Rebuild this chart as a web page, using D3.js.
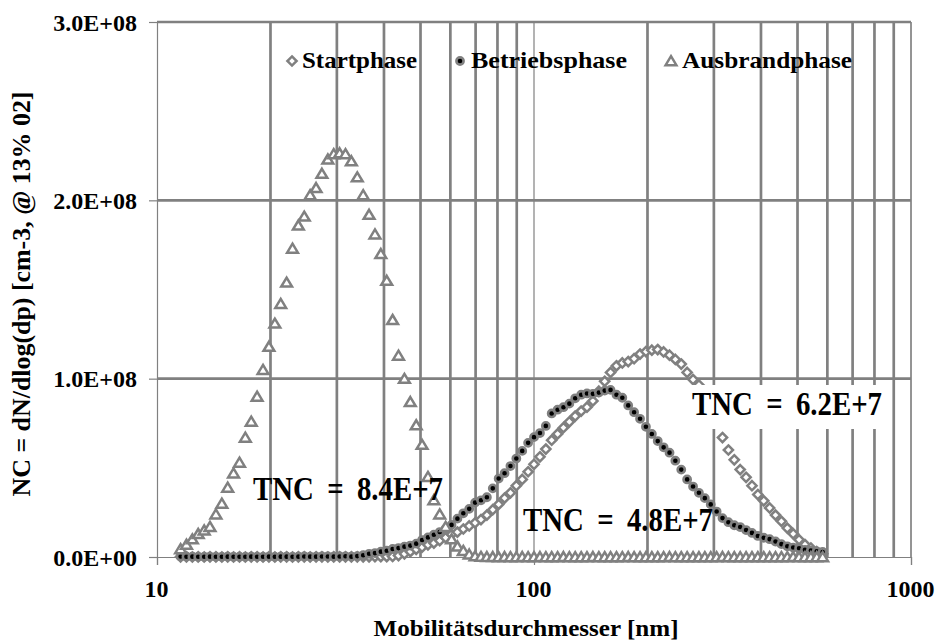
<!DOCTYPE html>
<html><head><meta charset="utf-8">
<script src="https://cdn.jsdelivr.net/npm/d3@7"></script>
<style>body{margin:0;background:#fff}svg{display:block}</style>
</head><body>
<svg id="chart" width="941" height="643"></svg>
<script>
// ---- DATA (diameter in nm, concentrations in 1E6 cm-3) ----
const diameters = [11.55, 11.97, 12.41, 12.86, 13.34, 13.82, 14.33, 14.86, 15.40, 15.96,
16.55, 17.15, 17.78, 18.43, 19.11, 19.81, 20.54, 21.29, 22.07, 22.88,
23.71, 24.58, 25.48, 26.42, 27.38, 28.39, 29.43, 30.51, 31.62, 32.78,
33.98, 35.23, 36.52, 37.86, 39.24, 40.68, 42.17, 43.71, 45.32, 46.98,
48.70, 50.48, 52.33, 54.25, 56.23, 58.29, 60.43, 62.64, 64.94, 67.32,
69.78, 72.34, 74.99, 77.74, 80.58, 83.54, 86.60, 89.77, 93.06, 96.47,
100.0, 103.7, 107.5, 111.4, 115.5, 119.7, 124.1, 128.6, 133.4, 138.2,
143.3, 148.6, 154.0, 159.6, 165.5, 171.5, 177.8, 184.3, 191.1, 198.1,
205.4, 212.9, 220.7, 228.8, 237.1, 245.8, 254.8, 264.2, 273.8, 283.9,
294.3, 305.1, 316.2, 327.8, 339.8, 352.3, 365.2, 378.6, 392.4, 406.8,
421.7, 437.1, 453.2, 469.8, 487.0, 504.8, 523.3, 542.5, 562.3, 582.9];

const startphase = [0.1, 0.1, 0.0, 0.1, 0.0, 0.1, 0.1, 0.0, 0.1, 0.0,
0.1, 0.0, 0.1, 0.1, 0.0, 0.1, 0.0, 0.1, 0.1, 0.0,
0.1, 0.1, 0.0, 0.1, 0.1, 0.0, 0.1, 0.1, 0.1, 0.1,
0.1, 0.1, 0.1, 0.2, 0.2, 0.2, 0.3, 0.8, 1.8, 3.0,
4.3, 5.5, 6.8, 7.8, 9.2, 10.8, 12.7, 14.0, 15.7, 17.4,
19.2, 21.0, 23.5, 26.5, 29.5, 33.0, 36.0, 40.0, 43.5, 47.8,
52.0, 56.2, 60.5, 65.5, 69.0, 72.5, 75.8, 79.0, 81.8, 84.0,
87.5, 93.0, 98.5, 103.5, 107.2, 108.8, 109.6, 111.2, 113.8, 115.2,
116.0, 116.3, 115.0, 113.2, 110.8, 108.2, 103.5, 99.5, 96.5, 91.0,
84.0, 76.0, 67.0, 60.0, 54.5, 49.0, 44.7, 40.0, 35.0, 31.5,
27.5, 23.5, 20.0, 16.2, 13.0, 9.7, 7.0, 5.0, 3.0, 1.8];

const betriebsphase = [0.3, 0.2, 0.2, 0.1, 0.1, 0.2, 0.1, 0.1, 0.2, 0.1,
0.1, 0.1, 0.2, 0.1, 0.1, 0.2, 0.1, 0.2, 0.2, 0.1,
0.2, 0.3, 0.2, 0.2, 0.3, 0.3, 0.2, 0.3, 0.4, 0.2,
0.5, 1.0, 1.8, 2.2, 3.0, 3.5, 4.5, 5.0, 5.8, 6.4,
7.5, 9.5, 11.0, 12.5, 14.0, 15.8, 18.0, 21.5, 24.5, 27.0,
30.5, 31.8, 33.5, 38.5, 44.0, 47.0, 51.0, 55.2, 59.5, 64.0,
67.2, 69.5, 73.5, 80.5, 82.6, 84.0, 86.0, 89.0, 91.0, 91.7,
91.5, 92.2, 93.3, 93.7, 91.0, 89.3, 85.0, 81.2, 77.5, 73.0,
69.0, 65.0, 61.5, 58.5, 54.0, 49.0, 43.5, 39.5, 36.0, 33.0,
29.5, 25.5, 21.8, 19.5, 17.8, 16.8, 15.1, 13.5, 11.8, 10.8,
10.0, 8.7, 7.2, 6.0, 5.3, 4.9, 4.0, 3.6, 3.2, 2.8];

const ausbrandphase = [4.5, 7.0, 10.0, 13.0, 15.0, 17.0, 24.0, 30.0, 39.0, 47.0,
53.0, 67.0, 76.0, 90.0, 105.0, 118.0, 131.0, 142.0, 154.0, 173.0,
186.0, 191.0, 203.0, 207.0, 215.0, 223.0, 226.0, 226.5, 226.0, 222.0,
213.0, 203.0, 192.0, 181.0, 170.0, 155.0, 133.0, 113.0, 100.0, 87.0,
74.0, 63.0, 45.0, 32.0, 24.0, 17.0, 10.0, 6.0, 3.5, 1.5,
0.5, 0.2, 0.1, 0.1, 0.0, 0.1, 0.0, 0.0, 0.1, 0.0,
0.0, 0.1, 0.0, 0.0, 0.0, 0.1, 0.0, 0.0, 0.0, 0.0,
0.1, 0.0, 0.0, 0.0, 0.0, 0.0, 0.1, 0.0, 0.0, 0.0,
0.0, 0.0, 0.0, 0.1, 0.0, 0.0, 0.0, 0.0, 0.0, 0.0,
0.0, 0.0, 0.1, 0.0, 0.0, 0.0, 0.0, 0.0, 0.0, 0.0,
0.0, 0.0, 0.0, 0.0, 0.1, 0.0, 0.0, 0.0, 0.0, 0.0];

const seriesNames = ["Startphase", "Betriebsphase", "Ausbrandphase"];
const xTickValues = [10, 100, 1000];
const xMinorValues = [20, 30, 40, 50, 60, 70, 80, 90, 200, 300, 400, 500, 600, 700, 800, 900];
const yTickValues = [0, 100, 200, 300]; // in 1E6
const tncTexts = ["TNC = 8.4E+7", "TNC = 4.8E+7", "TNC = 6.2E+7"];
const xTitle = "Mobilitätsdurchmesser [nm]";
const yTitle = "NC = dN/dlog(dp) [cm-3, @ 13% 02]";

// ---- LAYOUT ----
const svg = d3.select("#chart");
const L = 157, R = 911, T = 22, B = 557;
const GRID = "#808080";
const FONT = "'Liberation Serif', 'Times New Roman', serif";
const x = d3.scaleLog().domain([10, 1000]).range([L, R]);
const y = d3.scaleLinear().domain([0, 300]).range([B, T]);

function sci(vMillions) {
  const v = vMillions * 1e6;
  if (v === 0) return "0.0E+00";
  const e = Math.floor(Math.log10(v));
  const m = v / Math.pow(10, e);
  return m.toFixed(1) + "E+" + String(e).padStart(2, "0");
}

// gridlines
const g = svg.append("g");
g.selectAll(".vminor").data(xMinorValues).enter().append("line")
  .attr("x1", d => x(d)).attr("x2", d => x(d)).attr("y1", T).attr("y2", B)
  .attr("stroke", GRID).attr("stroke-width", 2.7);
g.selectAll(".hgrid").data(yTickValues.filter(d => d > 0)).enter().append("line")
  .attr("x1", L).attr("x2", R).attr("y1", d => y(d)).attr("y2", d => y(d))
  .attr("stroke", GRID).attr("stroke-width", 2.7);
g.selectAll(".vmajor").data(xTickValues.filter(d => d > 10)).enter().append("line")
  .attr("x1", d => x(d)).attr("x2", d => x(d)).attr("y1", T).attr("y2", B)
  .attr("stroke", GRID).attr("stroke-width", 1.2);

// axes
const xAxis = d3.axisBottom(x).tickValues(xTickValues).tickFormat(d3.format("d")).tickSize(8).tickPadding(6);
const xg = svg.append("g").attr("transform", `translate(0,${B})`).call(xAxis);
xg.select(".domain").attr("stroke", GRID).attr("stroke-width", 1.2);
xg.selectAll(".tick line").attr("stroke", GRID).attr("stroke-width", 1.2);
xg.selectAll(".tick text").attr("font-family", FONT).attr("font-weight", "bold")
  .attr("font-size", 24).attr("fill", "#000").attr("dy", "0.71em").attr("y", 23).attr("dx", -1);

const yAxis = d3.axisLeft(y).tickValues(yTickValues).tickFormat(sci).tickSize(8).tickPadding(12);
const yg = svg.append("g").attr("transform", `translate(${L},0)`).call(yAxis);
yg.select(".domain").attr("stroke", GRID).attr("stroke-width", 1.2);
yg.selectAll(".tick line").attr("stroke", GRID).attr("stroke-width", 1.2);
yg.selectAll(".tick text").attr("font-family", FONT).attr("font-weight", "bold")
  .attr("font-size", 24).attr("fill", "#000").attr("x", -20).attr("dy", "0.34em");

// markers
const markers = {
  Startphase: {path: "M0,-4.6L4.6,0L0,4.6L-4.6,0Z", fill: "#fff"},
  Betriebsphase: {circle: true, fill: "#000"},
  Ausbrandphase: {path: "M0,-4.8L5.4,4.2L-5.4,4.2Z", fill: "#fff"}
};
function drawMarker(sel, name) {
  const m = markers[name];
  if (m.circle) {
    sel.append("circle").attr("r", 3.6).attr("fill", m.fill).attr("stroke", GRID).attr("stroke-width", 2.6);
  } else {
    sel.append("path").attr("d", m.path).attr("fill", m.fill).attr("stroke", GRID).attr("stroke-width", 2.5)
      .attr("stroke-linejoin", "miter");
  }
}
const seriesData = [startphase, betriebsphase, ausbrandphase];
const plot = svg.append("g");
seriesData.forEach((vals, si) => {
  const name = seriesNames[si];
  const pts = plot.append("g").selectAll("g").data(vals.map((v, i) => ({d: diameters[i], v})))
    .enter().append("g").attr("transform", p => `translate(${x(p.d)},${y(p.v)})`);
  pts.each(function() { drawMarker(d3.select(this), name); });
});

// right border at 1000
svg.append("line").attr("x1", R).attr("x2", R).attr("y1", T).attr("y2", B).attr("stroke", GRID).attr("stroke-width", 1.2);

// legend
const legendPos = [{mx: 292, tx: 302}, {mx: 460, tx: 471}, {mx: 671, tx: 682}];
const legendWidths = [115, 156, 170];
seriesNames.forEach((name, i) => {
  const lg = svg.append("g");
  const mk = lg.append("g").attr("transform", `translate(${legendPos[i].mx},61)`);
  drawMarker(mk, name);
  lg.append("text").attr("x", legendPos[i].tx).attr("y", 68)
    .attr("font-family", FONT).attr("font-weight", "bold").attr("font-size", 24)
    .attr("textLength", legendWidths[i]).attr("lengthAdjust", "spacingAndGlyphs")
    .text(name);
});

// TNC annotations
const tncPos = [{x: 253, y: 500, box: false}, {x: 523, y: 531, box: false}, {x: 692, y: 415, box: true}];
tncTexts.forEach((t, i) => {
  const p = tncPos[i];
  if (p.box) svg.append("rect").attr("x", p.x - 8).attr("y", p.y - 30).attr("width", 199).attr("height", 44).attr("fill", "#fff");
  svg.append("text").attr("x", p.x).attr("y", p.y)
    .attr("font-family", FONT).attr("font-weight", "bold").attr("font-size", 33)
    .style("word-spacing", "7px")
    .attr("textLength", 190).attr("lengthAdjust", "spacingAndGlyphs")
    .text(t);
});

// axis titles
svg.append("text").attr("x", 526).attr("y", 636).attr("text-anchor", "middle")
  .attr("font-family", FONT).attr("font-weight", "bold").attr("font-size", 23)
  .attr("textLength", 305).attr("lengthAdjust", "spacingAndGlyphs").text(xTitle);
svg.append("text").attr("transform", "translate(30,294) rotate(-90)").attr("text-anchor", "middle")
  .attr("font-family", FONT).attr("font-weight", "bold").attr("font-size", 25)
  .attr("textLength", 405).attr("lengthAdjust", "spacingAndGlyphs").text(yTitle);
</script>
</body></html>
